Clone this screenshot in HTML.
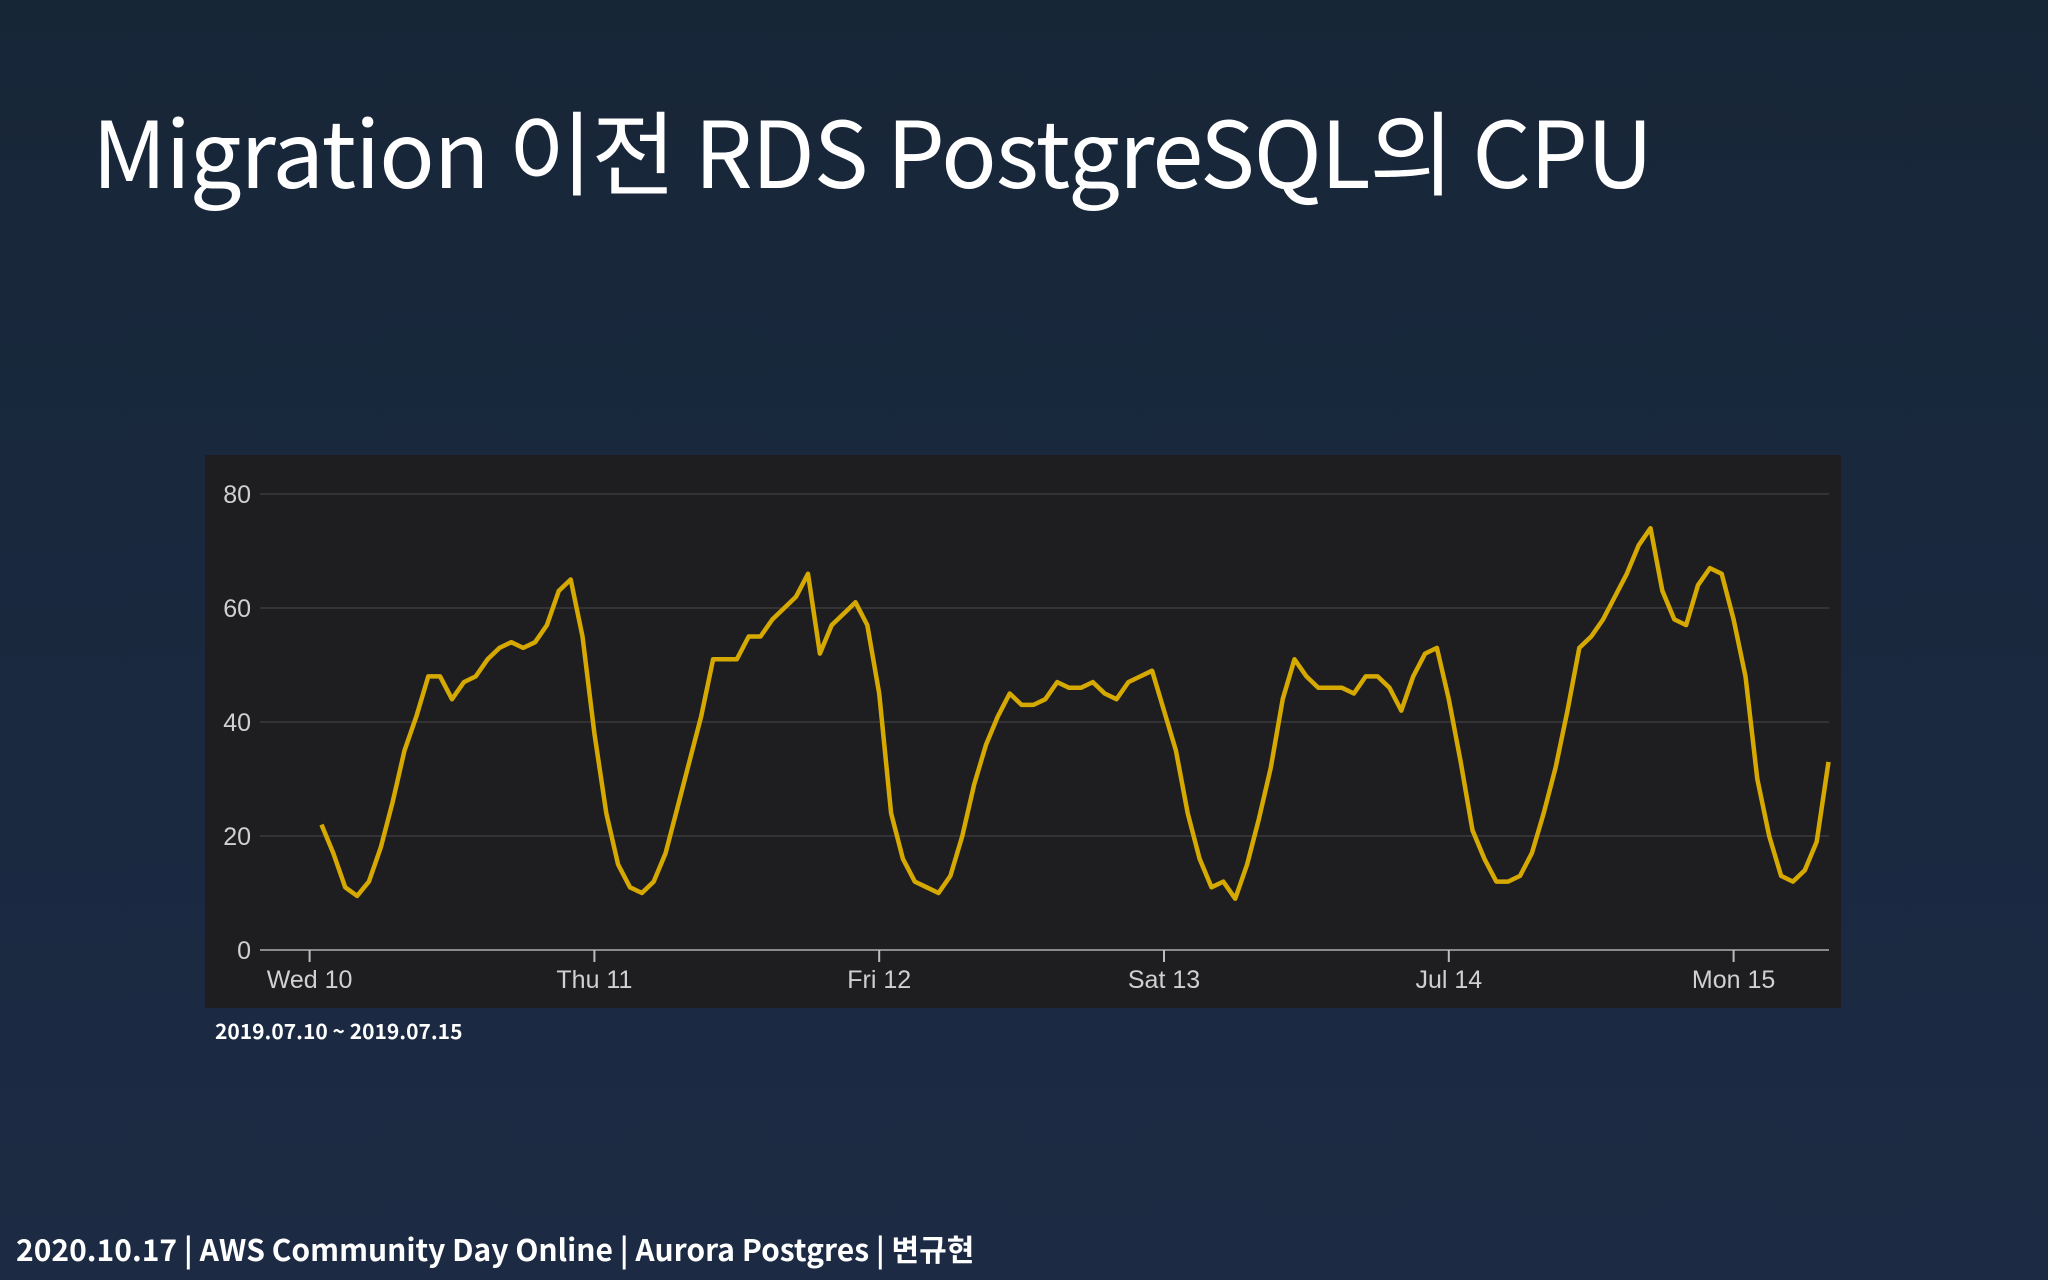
<!DOCTYPE html>
<html><head><meta charset="utf-8"><style>
html,body{margin:0;padding:0}
body{width:2048px;height:1280px;overflow:hidden;background:linear-gradient(180deg,#172637 0%,#1a2940 60%,#1c2a43 100%);position:relative;font-family:"Liberation Sans","Noto Sans CJK KR",sans-serif;color:#fff}
#title{position:absolute;left:92px;top:94px;font-size:92px;font-family:"Noto Sans CJK KR","Liberation Sans",sans-serif;font-weight:400;letter-spacing:-1.2px;white-space:nowrap;line-height:1.2}
#panel{position:absolute;left:205px;top:455px;width:1636px;height:553px;background:#1e1e20}
#range{position:absolute;left:215px;top:1016px;font-size:21px;font-weight:bold;font-family:"Noto Sans CJK KR","Liberation Sans",sans-serif}
#footer{position:absolute;left:16px;top:1226px;font-size:30px;font-weight:bold;font-family:"Noto Sans CJK KR","Liberation Sans",sans-serif;white-space:nowrap}
svg{position:absolute;left:0;top:0}
</style></head><body>
<div id="title">Migration 이전 RDS PostgreSQL의 CPU</div>
<div id="panel"></div>
<svg id="chart" width="2048" height="1280"></svg>
<div id="range">2019.07.10 ~ 2019.07.15</div>
<div id="footer">2020.10.17 | AWS Community Day Online | Aurora Postgres | 변규현</div>
<script>
const yTicks=[0,20,40,60,80];
const dayLabels=["Wed 10","Thu 11","Fri 12","Sat 13","Jul 14","Mon 15"];
const startHour=1;
const cpu=[22,17,11,9.5,12,18,26,35,41,48,48,44,47,48,51,53,54,53,54,57,63,65,55,38,
24,15,11,10,12,17,25,33,41,51,51,51,55,55,58,60,62,66,52,57,59,61,57,45,
24,16,12,11,10,13,20,29,36,41,45,43,43,44,47,46,46,47,45,44,47,48,49,42,
35,24,16,11,12,9,15,23,32,44,51,48,46,46,46,45,48,48,46,42,48,52,53,44,
33,21,16,12,12,13,17,24,32,42,53,55,58,62,66,71,74,63,58,57,64,67,66,58,48,
30,20,13,12,14,19,33];
const NS="http://www.w3.org/2000/svg";
const svg=document.getElementById('chart');
const x0=309.6, dayW=284.8, plotL=260, plotR=1829;
function xs(h){return x0+h/24*dayW;}
function ys(v){return 950-v*(456/80);}
function mk(t,a){const e=document.createElementNS(NS,t);for(const k in a)e.setAttribute(k,a[k]);svg.appendChild(e);return e;}
yTicks.forEach(v=>{
  const g=mk('line',{x1:plotL,x2:plotR,y1:ys(v),y2:ys(v),stroke:v===0?'#8a8a8c':'#3a3a3d','stroke-width':v===0?2:1.5});
  
  
  const t=mk('text',{x:251,y:ys(v)+9,'text-anchor':'end',fill:'#d0d0d0','font-size':25,'font-family':'"Liberation Sans",sans-serif'});
  t.textContent=v;
  
  
});
dayLabels.forEach((d,i)=>{
  const x=xs(i*24);
  const tk=mk('line',{x1:x,x2:x,y1:950,y2:962,stroke:'#bdbdbd','stroke-width':2});
  
  
  const t=mk('text',{x:x,y:988,'text-anchor':'middle',fill:'#d0d0d0','font-size':25,'font-family':'"Liberation Sans",sans-serif'});
  t.textContent=d;
  
  
});
const pts=cpu.map((v,i)=>xs(startHour+i).toFixed(1)+','+ys(v).toFixed(1)).join(' ');
const line=mk('polyline',{points:pts,fill:'none',stroke:'#d6a900','stroke-width':4.5,'stroke-linejoin':'round'});


</script>
</body></html>
